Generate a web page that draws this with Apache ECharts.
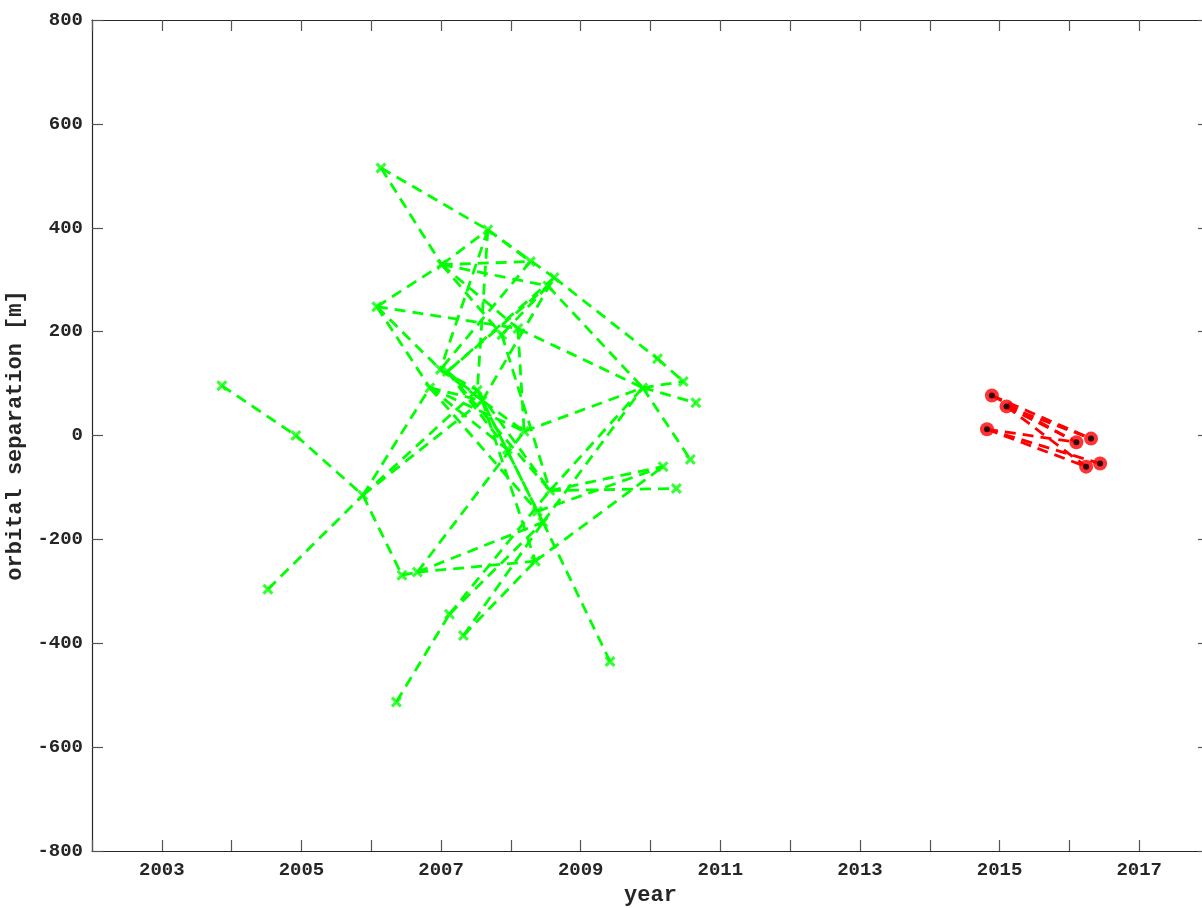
<!DOCTYPE html>
<html>
<head>
<meta charset="utf-8">
<script src="https://cdn.jsdelivr.net/npm/echarts@6/dist/echarts.min.js"></script>
<style>
html,body{margin:0;padding:0;background:#fff;}
#chart{width:1202px;height:908px;}
</style>
</head>
<body>
<div id="chart"></div>
<script>
// ---- data ----
const greenYears = [2003.86,2004.92,2004.52,2005.88,2006.14,2006.08,2006.44,2006.66,2006.36,2006.84,
  2006.99,2007.09,2007.01,2007.67,2008.28,2008.62,2008.53,2008.10,2007.87,2007.52,
  2007.59,2008.19,2007.95,2008.56,2008.38,2008.46,2008.35,2007.12,2007.32,2009.42,
  2009.89,2010.10,2010.47,2010.65,2010.57,2010.18,2010.37];
const greenBaselines = [96,0,-296,-115,515,248,-269,-263,-513,92,
  127,123,329,396,335,304,288,206,194,87,
  67,8,-27,-106,-146,-167,-242,-344,-385,-435,
  92,148,104,63,-46,-60,-102];
// pairs, 1-based point numbers
const greenPairs = [[1,2],[2,4],[3,4],[4,20],[4,21],[4,10],[4,7],[7,8],
  [5,14],[5,13],[13,14],[6,13],[6,18],[6,11],[6,10],
  [13,15],[13,17],[13,18],[13,19],
  [14,16],[14,15],[14,11],[14,20],
  [16,32],[17,31],[15,11],[16,12],[17,19],
  [18,31],[19,24],[18,22],
  [11,22],[10,23],[12,24],[20,24],[21,26],[11,20],[10,21],[12,21],
  [8,26],[8,27],[8,22],
  [9,28],[28,26],[29,26],[28,24],[29,27],
  [24,37],[24,36],[25,36],[27,36],[24,31],[26,31],[22,31],
  [26,30],
  [31,35],[31,33],[31,34],[32,33],
  [12,17],[21,16],[10,25],
  [10,22],[12,23],[20,25],[21,27]];

const redYears = [2014.89,2015.10,2014.82,2016.10,2016.31,2016.24,2016.44];
const redBaselines = [77,56,12,-13,-6,-60,-54];
const redPairs = [[1,4],[1,5],[2,4],[2,5],[3,6],[3,7],[2,6],[3,4]];

const refYears = [2003.86];
const refBaselines = [0];

const xTickLabels = [2003,2005,2007,2009,2011,2013,2015,2017];
const yTickLabels = [-800,-600,-400,-200,0,200,400,600,800];

// ---- build ----
const pts = (xs, ys) => xs.map((x, i) => [x, ys[i]]);
const segs = (xs, ys, pairs) => pairs.map(([a, b]) => ({coords: [[xs[a-1], ys[a-1]], [xs[b-1], ys[b-1]]]}));

const FONT = 'Liberation Mono';
const AX = '#262626';
const xSymbol = 'path://M0,2L2,0L5,3L8,0L10,2L7,5L10,8L8,10L5,7L2,10L0,8L3,5Z';

const chart = echarts.init(document.getElementById('chart'), null, {renderer: 'canvas'});
const xBase = {
  type: 'value', min: 2002, max: 2018, interval: 1,
  axisLine: {show: true, onZero: false, lineStyle: {color: AX, width: 1.2}},
  axisTick: {show: true, inside: true, length: 11, lineStyle: {color: '#555', width: 1.2}},
  splitLine: {show: false}
};
const yBase = {
  type: 'value', min: -800, max: 800, interval: 200,
  axisLine: {show: true, onZero: false, lineStyle: {color: AX, width: 1.2}},
  axisTick: {show: true, inside: true, length: 11, lineStyle: {color: '#555', width: 1.2}},
  splitLine: {show: false}
};
chart.setOption({
  animation: false,
  backgroundColor: '#fff',
  grid: {left: 92, top: 20, width: 1117, height: 831, containLabel: false, outerBoundsMode: 'none'},
  xAxis: [
    Object.assign({}, xBase, {
      position: 'bottom',
      name: 'year', nameLocation: 'middle', nameGap: 33,
      nameTextStyle: {fontFamily: FONT, fontWeight: 'bold', fontSize: 22, color: AX},
      axisLabel: {
        fontFamily: FONT, fontWeight: 'bold', fontSize: 19, color: AX, margin: 10,
        formatter: v => (xTickLabels.indexOf(Math.round(v)) >= 0 ? String(Math.round(v)) : '')
      }
    }),
    Object.assign({}, xBase, {position: 'top', axisLabel: {show: false}})
  ],
  yAxis: [
    Object.assign({}, yBase, {
      position: 'left',
      name: 'orbital separation [m]', nameLocation: 'middle', nameGap: 58,
      nameTextStyle: {fontFamily: FONT, fontWeight: 'bold', fontSize: 22, color: AX},
      axisLabel: {
        fontFamily: FONT, fontWeight: 'bold', fontSize: 19, color: AX, margin: 9,
        formatter: v => (yTickLabels.indexOf(Math.round(v)) >= 0 ? String(Math.round(v)) : '')
      }
    }),
    Object.assign({}, yBase, {position: 'right', axisLabel: {show: false}})
  ],
  series: [
    {
      type: 'lines', coordinateSystem: 'cartesian2d', xAxisIndex: 0, yAxisIndex: 0,
      silent: true, z: 2,
      lineStyle: {color: '#00ff00', width: 2.8, type: [11, 7], opacity: 1},
      data: segs(greenYears, greenBaselines, greenPairs)
    },
    {
      type: 'lines', coordinateSystem: 'cartesian2d', xAxisIndex: 0, yAxisIndex: 0,
      silent: true, z: 2,
      lineStyle: {color: '#ff0000', width: 2.8, type: [11, 7], opacity: 1},
      data: segs(redYears, redBaselines, redPairs)
    },
    {
      type: 'scatter', xAxisIndex: 0, yAxisIndex: 0, silent: true, z: 4,
      symbol: 'emptyCircle', symbolSize: 10,
      itemStyle: {color: '#fff', borderColor: '#f6c4c4', borderWidth: 1},
      data: pts(refYears, refBaselines)
    },
    {
      type: 'scatter', xAxisIndex: 0, yAxisIndex: 0, silent: true, z: 5,
      symbol: xSymbol, symbolSize: 11,
      itemStyle: {color: '#00ff00'},
      data: pts(greenYears, greenBaselines)
    },
    {
      type: 'scatter', xAxisIndex: 0, yAxisIndex: 0, silent: true, z: 5,
      symbol: 'circle', symbolSize: 14,
      itemStyle: {color: '#ff0000'},
      data: pts(redYears, redBaselines)
    },
    {
      type: 'scatter', xAxisIndex: 0, yAxisIndex: 0, silent: true, z: 6,
      symbol: 'circle', symbolSize: 6,
      itemStyle: {color: '#000'},
      data: pts(redYears, redBaselines)
    }
  ]
});
</script>
</body>
</html>
